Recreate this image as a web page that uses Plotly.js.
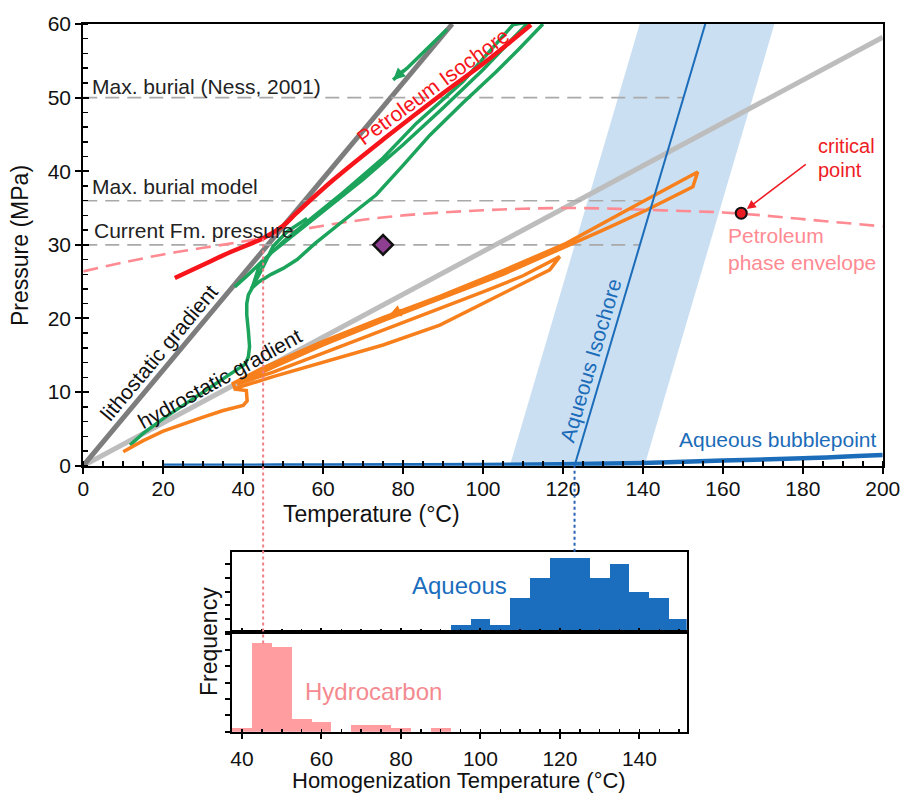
<!DOCTYPE html>
<html>
<head>
<meta charset="utf-8">
<script src="https://cdn.plot.ly/plotly-3.0.1.min.js"></script>
<style>html,body{margin:0;padding:0;background:#fff;}#chart{width:904px;height:795px;}</style>
</head>
<body>
<div id="chart"></div>
<script>
// ---------------- DATA ----------------
// Gradients (T °C, P MPa)
const lithoT = [0, 92.3];
const lithoP = [0, 60];
const hydroT = [0, 200];
const hydroP = [0, 58.2];

// Reference pressures (dashed lines)
const refLabels = ["Max. burial (Ness, 2001)", "Max. burial model", "Current Fm. pressure"];
const refP = [50, 36, 30];
const refTend = [150, 140.8, 139];

// Petroleum phase envelope (dashed)
const envT = [0, 10, 20, 30, 42.5, 50, 60, 70, 80, 90, 100, 110, 120, 130, 139, 150, 160, 170, 180, 190, 200];
const envP = [26.4, 27.6, 28.7, 29.6, 30.7, 31.6, 32.6, 33.4, 34.0, 34.4, 34.7, 34.9, 35.0, 34.95, 34.8, 34.6, 34.4, 34.0, 33.5, 33.0, 32.5];

// Critical point
const critT = [164.6];
const critP = [34.3];

// Petroleum isochore (red)
const petIsoT = [22.9, 30, 36.7, 45, 50, 53.3, 62.5, 75, 90, 100, 112];
const petIsoP = [25.5, 27.3, 29.0, 30.9, 32.6, 34.3, 38.8, 44.3, 50.6, 54.6, 59.9];

// Burial/pressure paths (green)
const greenT = [11.7, 15, 20, 25, 30, 35, 38, 40.5, 41.3, 41.6, 41.3, 40.9, 40.9, 41.3, 42.3, 44, 47, 50, 53.5, 58, 64.2, 73.3, 80, 86.7, 95, 103.3, 109, 115, null,
  37.9, 41, 45, 50, 57.5, 65, 75, 83.3, 95, 107.5, 111.5, 100, 90, 80, 70, 60, 52, 47, 44, 42.3, null,
  42, 44.5, 47.5, 51, 56, null,
  91, 86, 81, 77.5];
const greenP = [2.8, 4.4, 6.4, 8.2, 10.0, 11.8, 12.9, 13.8, 14.8, 16.2, 18.3, 20.5, 22.0, 23.2, 24.2, 25.0, 26.0, 26.8, 28.0, 30.2, 32.9, 36.8, 40.8, 44.9, 49.3, 53.5, 56.6, 60, null,
  24.3, 25.8, 27.9, 30.4, 33.8, 37.1, 41.8, 46.5, 52.2, 59.9, 60.3, 53.8, 48.6, 43.6, 38.9, 34.5, 31.0, 28.9, 27.1, 24.2, null,
  24.0, 26.5, 29.8, 31.8, 33.6, null,
  59.3, 56.6, 54.0, 52.4];

// Temperature-pressure paths (orange)
const orangeT = [10, 15, 20, 25, 30, 35, 40, 41, 40.8, 38, 37.5,
  45, 60, 75, 89.2, 105, 120.8, 137, 153.7, 152.5, 140.8, 130, 120, 105, 89.2, 75, 60, 47.5, 38.5,
  47.5, 60, 75, 89.2, 100, 110, 119.2, 116.7, 110, 100, 89.2, 75, 60, 47.5, 38];
const orangeP = [1.9, 3.4, 4.7, 5.7, 6.6, 7.5, 8.2, 8.8, 10.2, 10.4, 11.2,
  13.3, 16.9, 20.1, 23.0, 26.5, 30.2, 35.0, 39.9, 37.9, 34.7, 32.0, 29.6, 26.0, 22.7, 19.7, 16.4, 13.4, 11.1,
  12.7, 15.3, 18.4, 21.3, 23.6, 25.8, 28.4, 26.6, 24.8, 22.0, 19.1, 16.4, 14.1, 12.1, 10.5];

// Aqueous isochore and its uncertainty band
const aqIsoT = [122.9, 155.6];
const aqIsoP = [0, 60];
const bandLeftT = [106.7, 139.2];
const bandRightT = [140.4, 172.9];
const bandP = [0, 60];

// Aqueous bubblepoint curve
const bubT = [20, 40, 60, 80, 100, 120, 140, 160, 180, 200];
const bubP = [0, 0.01, 0.02, 0.05, 0.1, 0.2, 0.36, 0.7, 1.0, 1.45];

// Present-day point
const nowT = [75];
const nowP = [30];

// Histograms (homogenization temperature, counts)
const aqBinT = [95, 100, 105, 110, 115, 120, 125, 130, 135, 140, 145, 150];
const aqCount = [1, 2, 1, 5, 8, 11, 11, 8, 10, 6, 5, 2];
const hcBinT = [40, 45, 50, 55, 60, 65, 70, 75, 80, 85, 90];
const hcCount = [1, 27, 26, 4, 3, 0, 2, 2, 1, 0, 1];

// Modal homogenization temperatures
const hcModeT = 45;
const aqModeT = aqIsoT[0];

// ---------------- LAYOUT HELPERS ----------------
const FONT = 'Liberation Sans, Arial, Helvetica, sans-serif';
const mainX = [0.0921, 0.9765], mainY = [0.4142, 0.9698];
const histX = [0.2563, 0.7596], histY2 = [0.2047, 0.3060], histY3 = [0.0796, 0.2047];
const mainXRange = [0, 200], mainYRange = [0, 60], hY2Range = [0, 11.86], hY3Range = [0, 30.4];
function toPaper(dom, rng, v) { return dom[0] + (v - rng[0]) / (rng[1] - rng[0]) * (dom[1] - dom[0]); }
function interp(xs, ys, x) {
  for (let i = 0; i < xs.length - 1; i++) {
    if (x >= xs[i] && x <= xs[i + 1]) return ys[i] + (ys[i + 1] - ys[i]) * (x - xs[i]) / (xs[i + 1] - xs[i]);
  }
  return ys[ys.length - 1];
}

const GREEN = '#1ca45c', ORANGE = '#f7801c', RED = '#f7151b', PINK = '#ff8a92', BLUE = '#1b6cb9', HC = '#ff9da1';

const traces = [
  { x: [bandLeftT[0], bandRightT[0], bandRightT[1], bandLeftT[1]], y: [bandP[0], bandP[0], bandP[1], bandP[1]],
    mode: 'lines', fill: 'toself', fillcolor: 'rgba(160,197,232,0.55)', line: { width: 0 }, hoverinfo: 'skip' },
  { x: hydroT, y: hydroP, mode: 'lines', line: { color: '#bdbdbd', width: 5 }, hoverinfo: 'skip' },
  { x: lithoT, y: lithoP, mode: 'lines', line: { color: '#7d7d7d', width: 5 }, hoverinfo: 'skip' },
];
refP.forEach((p, i) => traces.push({ x: [0, refTend[i]], y: [p, p], mode: 'lines',
  line: { color: '#a9a9a9', width: 1.6, dash: '14px,8px' }, hoverinfo: 'skip' }));
traces.push(
  { x: envT, y: envP, mode: 'lines', line: { color: PINK, width: 2.6, dash: '15px,8px', shape: 'spline' }, hoverinfo: 'skip' },
  { x: greenT, y: greenP, mode: 'lines', line: { color: GREEN, width: 3.5 }, connectgaps: false, hoverinfo: 'skip' },
  { x: petIsoT, y: petIsoP, mode: 'lines', line: { color: RED, width: 4.5, shape: 'spline' }, hoverinfo: 'skip' },
  { x: orangeT, y: orangeP, mode: 'lines', line: { color: ORANGE, width: 3.5 }, hoverinfo: 'skip' },
  { x: aqIsoT, y: aqIsoP, mode: 'lines', line: { color: BLUE, width: 2 }, hoverinfo: 'skip' },
  { x: bubT, y: bubP, mode: 'lines', line: { color: BLUE, width: 4.5, shape: 'spline' }, hoverinfo: 'skip' },
  { x: nowT, y: nowP, mode: 'markers', marker: { symbol: 'diamond', size: 15, color: '#8e3f91', line: { color: '#111', width: 2.5 } }, hoverinfo: 'skip' },
  { x: critT, y: critP, mode: 'markers', marker: { symbol: 'circle', size: 11, color: '#ec1c24', line: { color: '#111', width: 2 } }, hoverinfo: 'skip' },
  { x: aqBinT, y: aqCount, type: 'bar', xaxis: 'x2', yaxis: 'y2', width: 5, marker: { color: '#1a6ebd', line: { width: 0 } }, hoverinfo: 'skip' },
  { x: hcBinT, y: hcCount, type: 'bar', xaxis: 'x3', yaxis: 'y3', width: 5, marker: { color: HC, line: { width: 0 } }, hoverinfo: 'skip' },
  // empty trace that only carries the inner half of the crossing major ticks
  { x: [], y: [], xaxis: 'x4', yaxis: 'y4', mode: 'lines', hoverinfo: 'skip' }
);

const tf = { family: FONT, size: 21, color: '#111' };
const axBase = { showgrid: false, zeroline: false, showline: true, linecolor: '#000', linewidth: 2, mirror: true,
  tickcolor: '#000', tickwidth: 2, tickfont: tf, automargin: false };
const noLbl = { showgrid: false, zeroline: false, showline: false, showticklabels: false, tickcolor: '#000', tickwidth: 2, automargin: false };

const layout = {
  width: 904, height: 795, margin: { l: 0, r: 0, t: 0, b: 0 }, showlegend: false,
  paper_bgcolor: '#fff', plot_bgcolor: 'rgba(0,0,0,0)', bargap: 0,
  font: { family: FONT },
  xaxis: Object.assign({}, axBase, { domain: mainX, range: mainXRange, dtick: 20, ticks: 'outside', ticklen: 6,
    ticklabelstandoff: -3,
    minor: { dtick: 5, ticks: 'inside', ticklen: 5, tickwidth: 1.5, tickcolor: '#000' }, anchor: 'y' }),
  yaxis: Object.assign({}, axBase, { domain: mainY, range: mainYRange, dtick: 10, ticks: 'outside', ticklen: 6,
    minor: { dtick: 2, ticks: 'inside', ticklen: 5, tickwidth: 1.5, tickcolor: '#000' }, anchor: 'x' }),
  xaxis4: Object.assign({}, noLbl, { overlaying: 'x', anchor: 'y4', range: mainXRange, dtick: 20, ticks: 'inside', ticklen: 6 }),
  yaxis4: Object.assign({}, noLbl, { overlaying: 'y', anchor: 'x4', range: mainYRange, dtick: 10, ticks: 'inside', ticklen: 6 }),
  xaxis2: Object.assign({}, axBase, { domain: histX, range: [37.4, 151.9], dtick: 20, ticks: 'inside', ticklen: 4,
    showticklabels: false, minor: { dtick: 5, ticks: 'inside', ticklen: 3, tickwidth: 1.5, tickcolor: '#000' }, anchor: 'y2' }),
  yaxis2: Object.assign({}, axBase, { domain: histY2, range: hY2Range, dtick: 2, ticks: 'outside', ticklen: 5,
    showticklabels: false, anchor: 'x2' }),
  xaxis3: Object.assign({}, axBase, { domain: histX, range: [37.4, 151.9], dtick: 20, ticks: 'outside', ticklen: 5,
    ticklabelstandoff: 2,
    minor: { dtick: 5, ticks: 'inside', ticklen: 3, tickwidth: 1.5, tickcolor: '#000' }, anchor: 'y3' }),
  yaxis3: Object.assign({}, axBase, { domain: histY3, range: hY3Range, dtick: 5, ticks: 'outside', ticklen: 5,
    showticklabels: false, anchor: 'x3' }),
  shapes: [
    { type: 'line', xref: 'x', yref: 'paper', x0: hcModeT, x1: hcModeT,
      y0: toPaper(histY3, hY3Range, hcCount[hcBinT.indexOf(hcModeT)]), y1: toPaper(mainY, mainYRange, interp(petIsoT, petIsoP, hcModeT)),
      line: { color: '#f27f88', width: 2, dash: 'dot' } },
    { type: 'line', xref: 'x', yref: 'paper', x0: aqModeT, x1: aqModeT,
      y0: histY2[1], y1: toPaper(mainY, mainYRange, aqIsoP[0]),
      line: { color: '#2a62b5', width: 2, dash: 'dot' } }
  ],
  annotations: [
    { xref: 'paper', yref: 'paper', x: 0.4115, y: 0.353, xanchor: 'center', yanchor: 'middle', text: 'Temperature (°C)', showarrow: false,
      font: { family: FONT, size: 23, color: '#111' } },
    { xref: 'paper', yref: 'paper', x: 0.0221, y: 0.6918, xanchor: 'center', yanchor: 'middle', text: 'Pressure (MPa)', textangle: -90, showarrow: false,
      font: { family: FONT, size: 23, color: '#111' } },
    { xref: 'paper', yref: 'paper', x: 0.2304, y: 0.1928, xanchor: 'center', yanchor: 'middle', text: 'Frequency', textangle: -90, showarrow: false,
      font: { family: FONT, size: 23, color: '#111' } },
    { xref: 'paper', yref: 'paper', x: 0.508, y: 0.0, xanchor: 'center', yanchor: 'bottom', text: 'Homogenization Temperature (°C)', showarrow: false,
      font: { family: FONT, size: 22, color: '#111' } },
    { xref: 'x', yref: 'y', x: 1.7, y: 51.5, xanchor: 'left', yanchor: 'middle', text: refLabels[0], showarrow: false, font: { family: FONT, size: 21, color: '#222' } },
    { xref: 'x', yref: 'y', x: 1.7, y: 37.9, xanchor: 'left', yanchor: 'middle', text: refLabels[1], showarrow: false, font: { family: FONT, size: 21, color: '#222' } },
    { xref: 'x', yref: 'y', x: 2.2, y: 31.9, xanchor: 'left', yanchor: 'middle', text: refLabels[2], showarrow: false, font: { family: FONT, size: 21, color: '#222' } },
    { xref: 'x', yref: 'y', x: 87.5, y: 51.5, text: 'Petroleum Isochore', textangle: -36, showarrow: false, font: { family: FONT, size: 21, color: RED } },
    { xref: 'x', yref: 'y', x: 18.9, y: 15.4, text: 'lithostatic gradient', textangle: -50, showarrow: false, font: { family: FONT, size: 21, color: '#111' } },
    { xref: 'x', yref: 'y', x: 34.2, y: 11.9, text: 'hydrostatic gradient', textangle: -29, showarrow: false, font: { family: FONT, size: 21, color: '#111' } },
    { xref: 'x', yref: 'y', x: 126.9, y: 14.3, text: 'Aqueous Isochore', textangle: -73.5, showarrow: false, font: { family: FONT, size: 21, color: BLUE } },
    { xref: 'x', yref: 'y', x: 199, y: 3.6, xanchor: 'right', yanchor: 'middle', text: 'Aqueous bubblepoint', showarrow: false, font: { family: FONT, size: 21, color: BLUE } },
    { xref: 'x', yref: 'y', x: 160.9, y: 29.4, xanchor: 'left', yanchor: 'middle', align: 'left', text: 'Petroleum<br>phase envelope', showarrow: false, font: { family: FONT, size: 21, color: PINK } },
    { xref: 'x', yref: 'y', x: 183.4, y: 43.4, xanchor: 'left', yanchor: 'middle', text: 'critical', showarrow: false, font: { family: FONT, size: 20, color: '#ee1c25' } },
    { xref: 'x', yref: 'y', x: 183.4, y: 40.2, xanchor: 'left', yanchor: 'middle', text: 'point', showarrow: false, font: { family: FONT, size: 20, color: '#ee1c25' } },
    { xref: 'x', yref: 'y', x: critT[0], y: critP[0], text: '', showarrow: true, ax: 66, ay: -50, arrowhead: 2, arrowsize: 1.2, arrowwidth: 1.5, arrowcolor: '#ee1c25', standoff: 7 },
    { xref: 'x', yref: 'y', x: greenT[greenT.length - 1], y: greenP[greenP.length - 1], text: '', showarrow: true, ax: 12, ay: -11, arrowhead: 2, arrowsize: 0.8, arrowwidth: 3, arrowcolor: GREEN },
    { xref: 'x', yref: 'y', x: 76.5, y: 20.4, text: '', showarrow: true, ax: 14, ay: -6, arrowhead: 2, arrowsize: 0.8, arrowwidth: 3, arrowcolor: ORANGE },
    { xref: 'paper', yref: 'paper', x: 0.4535, y: 0.2633, xanchor: 'left', yanchor: 'middle', text: 'Aqueous', showarrow: false, font: { family: FONT, size: 24, color: '#1a6ebd' } },
    { xref: 'paper', yref: 'paper', x: 0.3352, y: 0.1308, xanchor: 'left', yanchor: 'middle', text: 'Hydrocarbon', showarrow: false, font: { family: FONT, size: 24, color: '#f48a90' } }
  ]
};

Plotly.newPlot('chart', traces, layout, { displayModeBar: false, staticPlot: true });
</script>
</body>
</html>
